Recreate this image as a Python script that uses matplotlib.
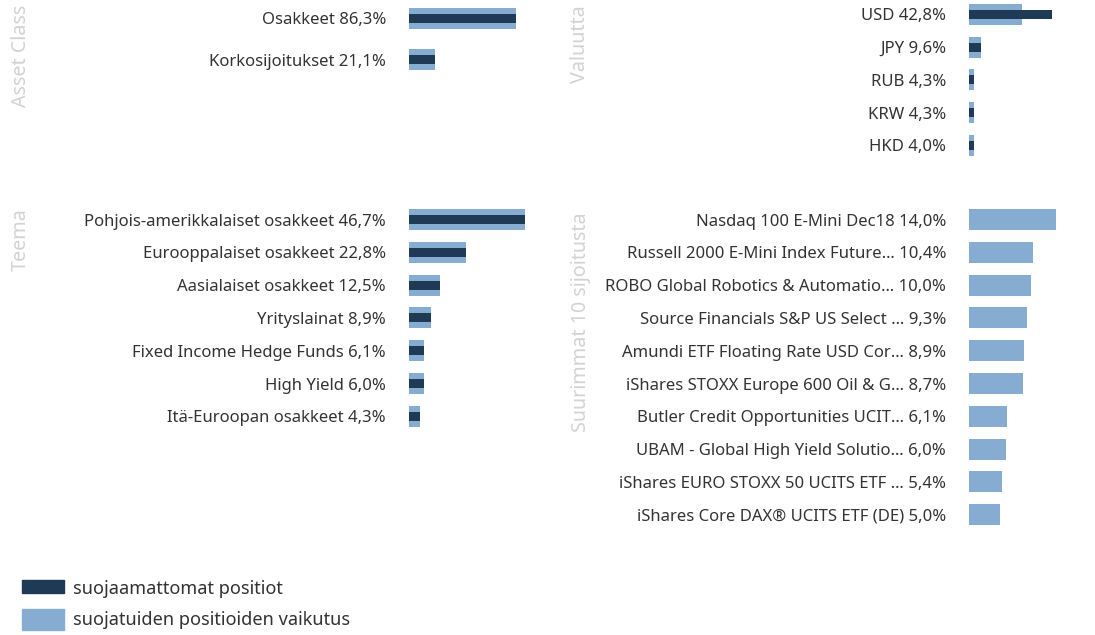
import matplotlib
matplotlib.use("Agg")
import matplotlib.pyplot as plt
from matplotlib.patches import Rectangle

plt.rcParams['font.family'] = ['Noto Sans', 'DejaVu Sans']

# ---------------- data ----------------
asset_names = ["Osakkeet", "Korkosijoitukset"]
asset_total = [86.3, 21.1]
asset_unhedged = [86.3, 21.1]

currency_names = ["USD", "JPY", "RUB", "KRW", "HKD"]
currency_total = [42.8, 9.6, 4.3, 4.3, 4.0]
currency_unhedged = [67.0, 9.6, 4.3, 4.3, 4.0]

theme_names = ["Pohjois-amerikkalaiset osakkeet", "Eurooppalaiset osakkeet",
               "Aasialaiset osakkeet", "Yrityslainat", "Fixed Income Hedge Funds",
               "High Yield", "Itä-Euroopan osakkeet"]
theme_total = [46.7, 22.8, 12.5, 8.9, 6.1, 6.0, 4.3]
theme_unhedged = [46.7, 22.8, 12.5, 8.9, 6.1, 6.0, 4.3]

top_names = ["Nasdaq 100 E-Mini Dec18", "Russell 2000 E-Mini Index Future…",
             "ROBO Global Robotics & Automatio…", "Source Financials S&P US Select …",
             "Amundi ETF Floating Rate USD Cor…", "iShares STOXX Europe 600 Oil & G…",
             "Butler Credit Opportunities UCIT…", "UBAM - Global High Yield Solutio…",
             "iShares EURO STOXX 50 UCITS ETF …", "iShares Core DAX® UCITS ETF (DE)"]
top_total = [14.0, 10.4, 10.0, 9.3, 8.9, 8.7, 6.1, 6.0, 5.4, 5.0]
top_unhedged = None

legend_labels = ["suojaamattomat positiot", "suojatuiden positioiden vaikutus"]
titles = ["Asset Class", "Valuutta", "Teema", "Suurimmat 10 sijoitusta"]

# ---------------- style ----------------
W, H = 1095, 635
DARK = "#1f3a55"
LIGHT = "#87acd1"
TEXT = "#333333"
TITLE = "#d3d3d3"
FS = 12.0
LEG_FS = 13.1
TITLE_FS = 14.2

fig = plt.figure(figsize=(W / 100, H / 100), dpi=100)


def fmt(v):
    return f"{v:.1f}".replace(".", ",") + "%"


def panel(x0, c0, spacing, names, total, unhedged, xmax):
    n = len(names)
    top_px = c0 - 16
    bot_px = c0 + (n - 1) * spacing + 16
    ax = fig.add_axes([x0 / W, 1 - bot_px / H, 124 / W, (bot_px - top_px) / H])
    ax.set_xlim(0, xmax)
    ax.set_ylim((bot_px - c0) / spacing, (top_px - c0) / spacing)
    pos = list(range(n))
    ax.barh(pos, total, height=21 / spacing, color=LIGHT, zorder=2)
    if unhedged is not None:
        ax.barh(pos, unhedged, height=9 / spacing, color=DARK, zorder=3)
    ax.set_yticks(pos)
    ax.set_yticklabels([f"{nm} {fmt(v)}" for nm, v in zip(names, total)],
                       fontsize=FS, color=TEXT)
    ax.tick_params(axis='y', length=0, pad=16.5)
    ax.set_xticks([])
    for s in ax.spines.values():
        s.set_visible(False)
    ax.patch.set_alpha(0)
    return ax


panel(409, 18.5, 41, asset_names, asset_total, asset_unhedged, 100)
panel(969, 14.5, 32.75, currency_names, currency_total, currency_unhedged, 100)
panel(409, 219.5, 32.8, theme_names, theme_total, theme_unhedged, 50)
panel(969, 219.5, 32.8, top_names, top_total, top_unhedged, 20)

# panel titles (rotated)
for t, (xp, yp) in zip(titles, [(21, 5), (580, 5), (21, 208), (581, 212)]):
    fig.text(xp / W, 1 - yp / H, t, rotation=90, ha='center', va='top',
             fontsize=TITLE_FS, color=TITLE)

# legend
fig.add_artist(Rectangle((22 / W, 1 - 593 / H), 42 / W, 13 / H,
                         transform=fig.transFigure, color=DARK))
fig.add_artist(Rectangle((22 / W, 1 - 630 / H), 42 / W, 21 / H,
                         transform=fig.transFigure, color=LIGHT))
fig.text(73 / W, 1 - 589 / H, legend_labels[0], fontsize=LEG_FS, color=TEXT,
         va='center', ha='left')
fig.text(73 / W, 1 - 620 / H, legend_labels[1], fontsize=LEG_FS, color=TEXT,
         va='center', ha='left')

fig.savefig("out.png", dpi=100)
